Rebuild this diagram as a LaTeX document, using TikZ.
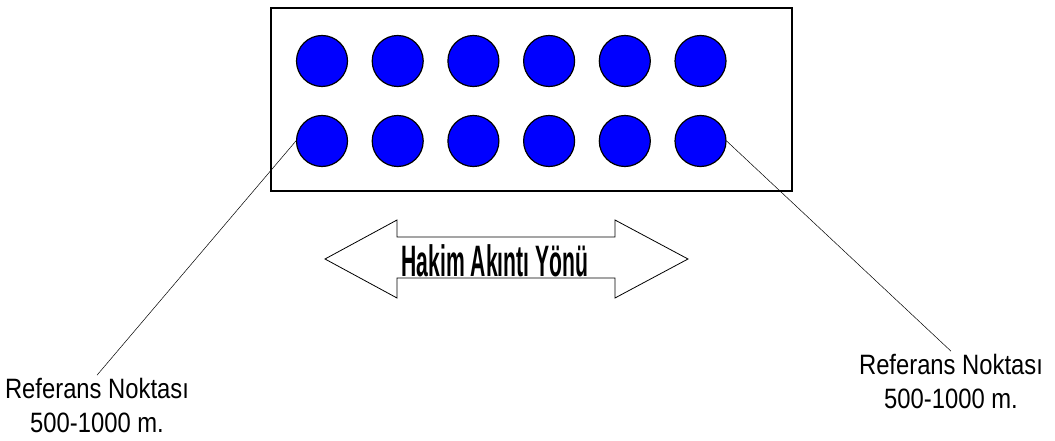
\documentclass[tikz,border=0pt]{standalone}
\usepackage{fontspec}
\setmainfont{Liberation Sans}
\begin{document}
\begin{tikzpicture}[x=1pt,y=-1pt,
  pile/.style={circle,draw=black,line width=1.2pt,fill=blue,minimum size=51pt,inner sep=0pt},
  lbl/.style={align=center,font=\fontsize{28}{34}\selectfont,xscale=0.85},
  thin/.style={line width=0.5pt}]
\useasboundingbox (0,0) rectangle (1055,441);
\fill[white] (0,0) rectangle (1055,441);
\draw[line width=1.6pt] (271,8) rectangle (792,191);
\foreach \i [evaluate=\i as \x using 322+75.7*(\i-1)] in {1,...,6}{
  \node[pile] (t\i) at (\x,61) {};
  \node[pile] (b\i) at (\x,141) {};
}
\node[lbl] (L) at (97,405) {Referans Noktası\\500-1000 m.};
\node[lbl] (R) at (951,381) {Referans Noktası\\500-1000 m.};
\draw[thin] (b1.west) -- ([yshift=-1pt]L.north);
\draw[thin] (b6.east) -- ([yshift=-1pt]R.north);
\draw[line width=0.8pt] (325,259) -- (397,220) -- (397,237) -- (615,237) -- (615,220)
  -- (688,259) -- (615,298) -- (615,278) -- (397,278) -- (397,298) -- cycle;
\node[font=\bfseries\fontsize{44}{44}\selectfont,xscale=0.48,inner sep=0pt,anchor=base] (flow) at (495,276) {Hakim Akıntı Yönü};
\end{tikzpicture}
\end{document}
